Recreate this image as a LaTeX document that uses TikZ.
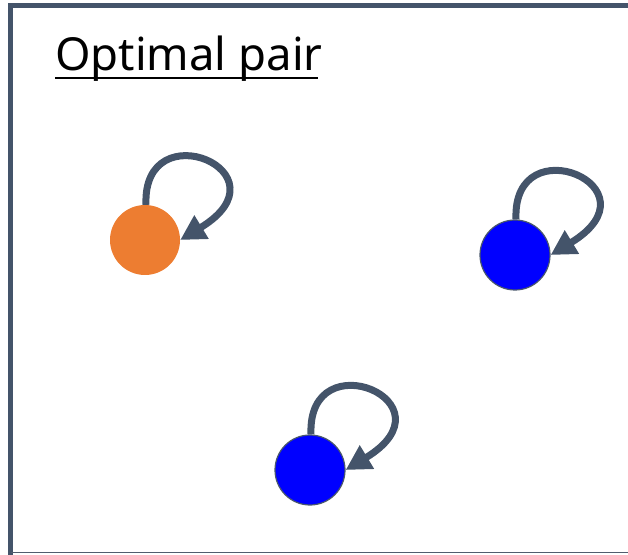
\documentclass[tikz,border=0pt]{standalone}
\usepackage{fontspec}
\setmainfont{Noto Sans}
\usetikzlibrary{arrows.meta}
\definecolor{slate}{HTML}{44546A}
\definecolor{orng}{HTML}{ED7D31}
\definecolor{blu}{HTML}{0000FF}
\tikzset{
  x=1pt,y=1pt,
  frame/.style={draw=slate,line width=5pt},
  dotnode/.style={circle,minimum size=70pt,inner sep=0pt},
  orangedot/.style={dotnode,fill=orng},
  bluedot/.style={dotnode,fill=blu,draw=slate!90!gray,line width=1.2pt},
  selfloop/.style={draw=slate,line width=7pt,-{Triangle[length=25pt,width=26pt]}}
}
\begin{document}
\begin{tikzpicture}
\useasboundingbox (0,0) rectangle (628,554);
\draw[frame] (10.5,-10) rectangle (680,548);
\draw[slate!80!gray,line width=1.2pt] (10.5,1.5) -- (628,1.5);
\node[anchor=base west,font=\fontsize{45.5}{50}\selectfont,inner sep=0pt] (title) at (55,483) {Optimal pair};
\draw[line width=2.6pt] (55,476) coordinate (u1) -- (318,476) coordinate (u2);
\node[orangedot] (o) at (145,314) {};
\node[bluedot] (b1) at (515,299) {};
\node[bluedot] (b2) at (310,84) {};
\foreach \n in {o,b1,b2}{
  \draw[selfloop] ([xshift=1pt]\n.north) .. controls +(-4,95) and +(112,68) .. (\n.east);
}
\end{tikzpicture}
\end{document}
